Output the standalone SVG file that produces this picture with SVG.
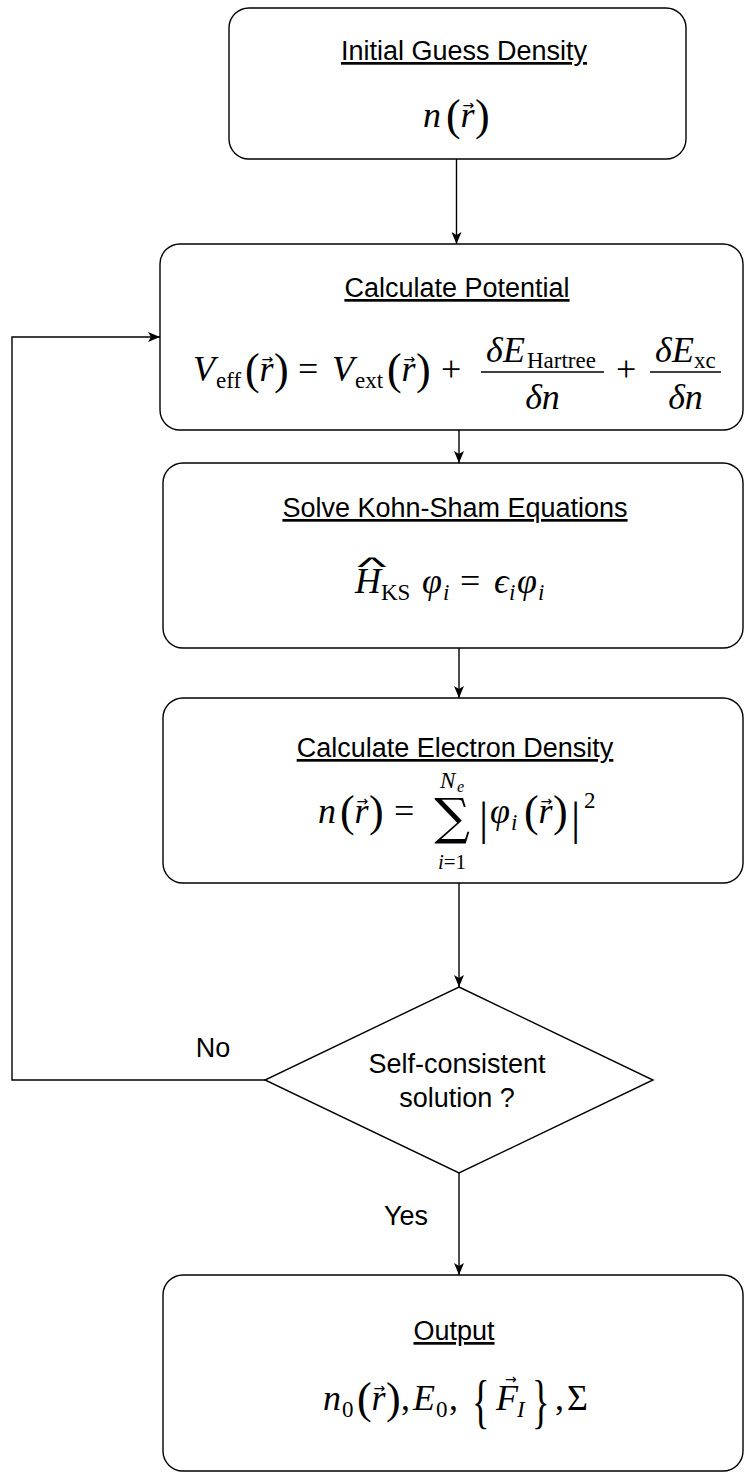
<svg xmlns="http://www.w3.org/2000/svg" width="744" height="1472" viewBox="0 0 744 1472">
  <defs>
    <style>
      .box { fill: #fff; stroke: #000; stroke-width: 1.4; }
      .edge { fill: none; stroke: #000; stroke-width: 1.4; }
      .title { font-family: "Liberation Sans", Arial, sans-serif; font-size: 27px; fill: #000; text-anchor: middle; text-decoration: underline; }
      .lbl { font-family: "Liberation Sans", Arial, sans-serif; font-size: 27px; fill: #000; text-anchor: middle; }
      .mi { font-family: "Liberation Serif", "DejaVu Serif", serif; font-style: italic; font-size: 36px; fill: #000; }
      .mn { font-family: "Liberation Serif", "DejaVu Serif", serif; font-style: normal; font-size: 36px; fill: #000; }
      .sub { font-size: 23px; }
      .lim { font-size: 21px; }
      .sup { font-size: 23px; }
      .supsub { font-size: 16px; }
      .par { font-family: "Liberation Serif", "DejaVu Serif", serif; font-size: 44px; fill: #000; }
      .tall { font-size: 46px; }
      .brace { font-size: 52px; }
      .vec { font-family: "DejaVu Sans", sans-serif; font-size: 14px; fill: #000; }
      .big { font-family: "DejaVu Serif", serif; font-size: 50px; fill: #000; text-anchor: middle; }
      .hat { font-family: "Liberation Sans", sans-serif; font-size: 26px; fill: #000; text-anchor: middle; }
      .fbar { stroke: #000; stroke-width: 1.6; }
    </style>
    <marker id="ah" markerWidth="12" markerHeight="10" refX="12" refY="5" orient="auto" markerUnits="userSpaceOnUse">
      <path d="M0,0 L12,5 L0,10 L3,5 Z" fill="#000"/>
    </marker>
  </defs>

  <!-- connectors -->
  <g id="connectors">
    <path class="edge" d="M456.5,159 V244" marker-end="url(#ah)"/>
    <path class="edge" d="M459,430 V463" marker-end="url(#ah)"/>
    <path class="edge" d="M459,648 V698" marker-end="url(#ah)"/>
    <path class="edge" d="M459,883 V987" marker-end="url(#ah)"/>
    <path class="edge" d="M459,1173 V1275" marker-end="url(#ah)"/>
    <path class="edge" d="M265,1080 H12 V337 H160" marker-end="url(#ah)"/>
    <text class="lbl" x="213" y="1057">No</text>
    <text class="lbl" x="406" y="1225">Yes</text>
  </g>

  <!-- initial guess -->
  <g id="initial-guess">
    <rect class="box" x="229" y="8" width="457" height="151" rx="20"/>
    <text class="title" x="464" y="60">Initial Guess Density</text>
    <text class="mi" x="423" y="127">n</text>
    <text class="par" x="446" y="130">(</text>
    <text class="mi" x="460.5" y="127">r</text>
    <text class="vec" x="462.5" y="110">→</text>
    <text class="par" x="475" y="130">)</text>
  </g>

  <!-- effective potential -->
  <g id="calc-potential">
    <rect class="box" x="160" y="244" width="583" height="186" rx="20"/>
    <text class="title" x="457" y="297">Calculate Potential</text>
    <text class="mi" x="193" y="381">V</text>
    <text class="mn sub" x="216" y="388">eff</text>
    <text class="par" x="245" y="384">(</text>
    <text class="mi" x="259.5" y="381">r</text>
    <text class="vec" x="261.5" y="364">→</text>
    <text class="par" x="274" y="384">)</text>
    <text class="mn" x="298" y="381">=</text>
    <text class="mi" x="332" y="381">V</text>
    <text class="mn sub" x="355" y="388">ext</text>
    <text class="par" x="387" y="384">(</text>
    <text class="mi" x="401.5" y="381">r</text>
    <text class="vec" x="403.5" y="364">→</text>
    <text class="par" x="416" y="384">)</text>
    <text class="mn" x="441" y="381">+</text>
    <line class="fbar" x1="481" y1="372" x2="604" y2="372"/>
    <text class="mi" x="486" y="362">δ</text>
    <text class="mi" x="503" y="362">E</text>
    <text class="mn sub" x="527" y="368">Hartree</text>
    <text class="mi" x="542.5" y="409" text-anchor="middle">δn</text>
    <text class="mn" x="616" y="381">+</text>
    <line class="fbar" x1="650" y1="372" x2="721" y2="372"/>
    <text class="mi" x="655" y="362">δ</text>
    <text class="mi" x="672" y="362">E</text>
    <text class="mn sub" x="694" y="368">xc</text>
    <text class="mi" x="685.5" y="409" text-anchor="middle">δn</text>
  </g>

  <!-- Kohn-Sham equations -->
  <g id="solve-ks">
    <rect class="box" x="163" y="463" width="580" height="185" rx="20"/>
    <text class="title" x="455" y="517">Solve Kohn-Sham Equations</text>
    <text class="hat" transform="translate(372,576) scale(2.4,1)">^</text>
    <text class="mi" x="355" y="593">H</text>
    <text class="mn sub" x="381" y="600">KS</text>
    <text class="mi" x="422" y="593">φ</text>
    <text class="mi sub" x="443" y="600">i</text>
    <text class="mn" x="460" y="593">=</text>
    <text class="mi" x="494" y="593">ϵ</text>
    <text class="mi sub" x="509" y="600">i</text>
    <text class="mi" x="517" y="593">φ</text>
    <text class="mi sub" x="538" y="600">i</text>
  </g>

  <!-- electron density -->
  <g id="calc-density">
    <rect class="box" x="163" y="698" width="580" height="185" rx="20"/>
    <text class="title" x="455" y="757">Calculate Electron Density</text>
    <text class="mi" x="318" y="823">n</text>
    <text class="par" x="340" y="826">(</text>
    <text class="mi" x="354.5" y="823">r</text>
    <text class="vec" x="356.5" y="806">→</text>
    <text class="par" x="369" y="826">)</text>
    <text class="mn" x="394" y="823">=</text>
    <text class="big" x="452" y="834">∑</text>
    <text class="mi sup" x="440" y="788">N</text>
    <text class="mi supsub" x="457" y="792">e</text>
    <text class="mi lim" x="452" y="869" text-anchor="middle">i<tspan font-style="normal">=1</tspan></text>
    <text class="par tall" x="479" y="834">|</text>
    <text class="mi" x="490" y="823">φ</text>
    <text class="mi sub" x="511" y="830">i</text>
    <text class="par" x="524" y="826">(</text>
    <text class="mi" x="538.5" y="823">r</text>
    <text class="vec" x="540.5" y="806">→</text>
    <text class="par" x="553" y="826">)</text>
    <text class="par tall" x="571" y="834">|</text>
    <text class="mn sub" x="584" y="808">2</text>
  </g>

  <!-- convergence check -->
  <g id="self-consistent">
    <polygon class="box" points="459,987 653,1080 459,1173 265,1080"/>
    <text class="lbl" x="457" y="1073">Self-consistent</text>
    <text class="lbl" x="457" y="1107">solution ?</text>
  </g>

  <!-- output -->
  <g id="output">
    <rect class="box" x="163" y="1275" width="580" height="196" rx="20"/>
    <text class="title" x="454" y="1340">Output</text>
    <text class="mi" x="323" y="1410">n</text>
    <text class="mn sub" x="342" y="1417">0</text>
    <text class="par" x="357" y="1413">(</text>
    <text class="mi" x="371.5" y="1410">r</text>
    <text class="vec" x="373.5" y="1393">→</text>
    <text class="par" x="386" y="1413">)</text>
    <text class="mn" x="401" y="1410">,</text>
    <text class="mi" x="413" y="1410">E</text>
    <text class="mn sub" x="436" y="1417">0</text>
    <text class="mn" x="449" y="1410">,</text>
    <text class="par brace" transform="translate(472,1421) scale(0.7,1.15)">{</text>
    <text class="mi" x="496" y="1410">F</text>
    <text class="vec" x="505" y="1384">→</text>
    <text class="mi sub" x="517" y="1417">I</text>
    <text class="par brace" transform="translate(532,1421) scale(0.7,1.15)">}</text>
    <text class="mn" x="555" y="1410">,</text>
    <text class="mn" x="567" y="1410">Σ</text>
  </g>
</svg>
